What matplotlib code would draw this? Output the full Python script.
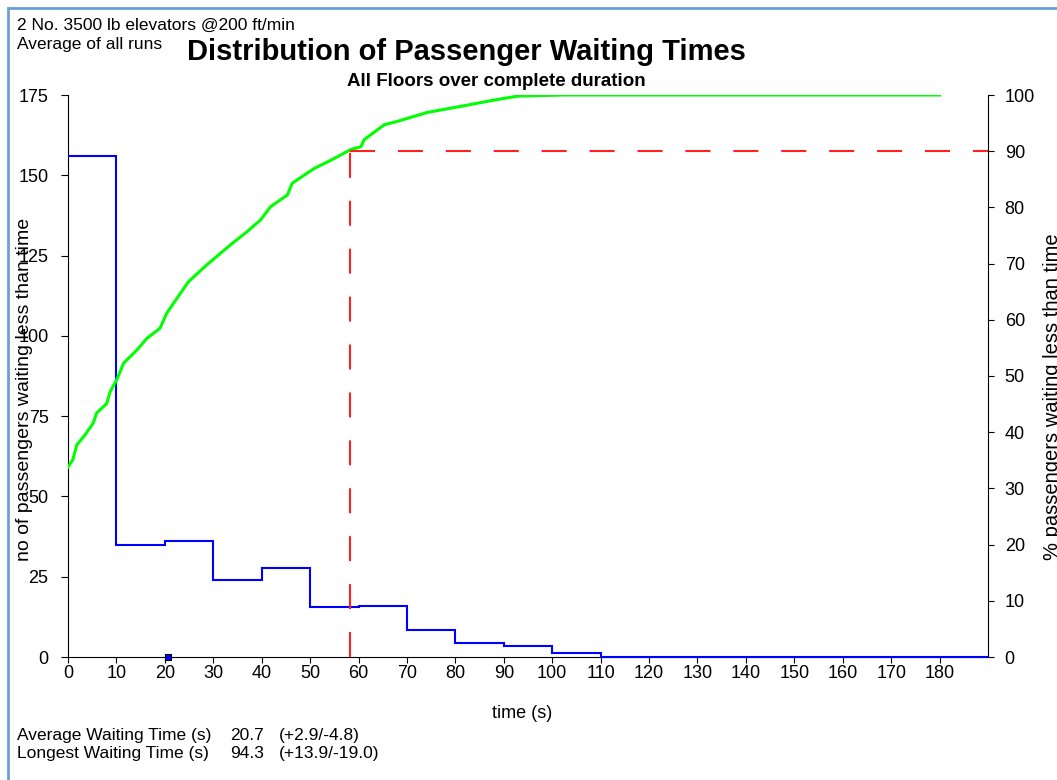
import matplotlib.pyplot as plt
from matplotlib.patches import Rectangle
import numpy as np

plt.rcParams['font.family'] = ['Liberation Sans', 'DejaVu Sans']

# histogram of waiting times: passengers per 10 s bin
bin_edges = [0, 10, 20, 30, 40, 50, 60, 70, 80, 90, 100, 110, 120, 130, 140,
             150, 160, 170, 180, 190]
bin_counts = [156, 35, 36, 24, 27.7, 15.5, 15.9, 8.4, 4.5, 3.5, 1.3,
              0, 0, 0, 0, 0, 0, 0, 0]

# cumulative percentage of passengers waiting less than time
cum_time = [0, 1.0, 1.8, 3.5, 5.2, 5.9, 8.0, 8.7, 10.1, 11.5, 14.2, 16.3, 19.0,
            20.4, 23.2, 24.9, 28.7, 33.5, 37.0, 39.8, 41.8, 45.3, 46.3, 50.8,
            54.3, 58.4, 60.5, 61.1, 65.3, 68.0, 74.2, 82.5, 88.0, 92.9, 102.5, 180]
cum_pct = [33.8, 35.1, 37.7, 39.5, 41.6, 43.4, 45.1, 47.2, 49.4, 52.3, 54.6,
           56.7, 58.5, 61.2, 64.7, 66.8, 69.8, 73.3, 75.7, 77.8, 80.1, 82.2,
           84.3, 86.9, 88.4, 90.3, 90.8, 92.0, 94.7, 95.3, 96.9, 98.2, 99.1,
           99.8, 100, 100]

t90 = 58.2       # time by which 90% have been served
avg_wait = 20.7

fig = plt.figure(figsize=(10.57, 7.8), dpi=100)
ax = fig.add_axes([68 / 1057, 1 - 657 / 780, 920 / 1057, 562 / 780])
ax2 = ax.twinx()

ax.set_xlim(0, 190)
ax.set_ylim(0, 175)
ax2.set_ylim(0, 100)

ax.stairs(bin_counts, bin_edges, baseline=None, color='#0000ff', lw=1.5,
          zorder=3, clip_on=False)
ax.plot([avg_wait], [0], 's', ms=4.5, mfc='#0000ff', mec='black', mew=0.8,
        clip_on=False, zorder=4)

ax2.plot(cum_time, cum_pct, color='#00ff00', lw=2.2)
ax2.plot([t90, t90], [0, 90], color='#ff2020', lw=1.5, dashes=(12, 11))
ax2.plot([t90, 190], [90, 90], color='#ff2020', lw=1.5, dashes=(12, 11),
         clip_on=False)

ax.set_xticks(np.arange(0, 181, 10))
ax.set_yticks(np.arange(0, 176, 25))
ax2.set_yticks(np.arange(0, 101, 10))

for s in ['top', 'right']:
    ax.spines[s].set_visible(False)
for s in ['top', 'left', 'bottom']:
    ax2.spines[s].set_visible(False)

ax.tick_params(axis='x', direction='out', length=4, pad=2, labelsize=13)
ax.tick_params(axis='y', direction='out', length=5, pad=9, labelsize=13)
ax2.tick_params(axis='y', direction='out', length=4, pad=8, labelsize=13)

fig.text(25 / 1057, 1 - 389 / 780, 'no of passengers waiting less than time',
         rotation=90, ha='center', va='center', fontsize=14)
fig.text(1053 / 1057, 1 - 397 / 780, '% passengers waiting less than time',
         rotation=90, ha='center', va='center', fontsize=14.5)
fig.text(522 / 1057, 1 - 718 / 780, 'time (s)', ha='center', va='baseline',
         fontsize=13)

fig.text(466 / 1057, 1 - 60 / 780, 'Distribution of Passenger Waiting Times',
         ha='center', va='baseline', fontsize=21, fontweight='bold')
fig.text(496 / 1057, 1 - 86 / 780, 'All Floors over complete duration',
         ha='center', va='baseline', fontsize=13.5, fontweight='bold')
fig.text(17 / 1057, 1 - 30 / 780, '2 No. 3500 lb elevators @200 ft/min',
         ha='left', va='baseline', fontsize=12.5)
fig.text(17 / 1057, 1 - 49 / 780, 'Average of all runs',
         ha='left', va='baseline', fontsize=12.5)

fig.text(17 / 1057, 1 - 740 / 780, 'Average Waiting Time (s)', ha='left',
         va='baseline', fontsize=12.5)
fig.text(230 / 1057, 1 - 740 / 780, '20.7', ha='left', va='baseline', fontsize=12.5)
fig.text(279 / 1057, 1 - 740 / 780, '(+2.9/-4.8)', ha='left', va='baseline',
         fontsize=12.5)
fig.text(17 / 1057, 1 - 758 / 780, 'Longest Waiting Time (s)', ha='left',
         va='baseline', fontsize=12.5)
fig.text(230 / 1057, 1 - 758 / 780, '94.3', ha='left', va='baseline', fontsize=12.5)
fig.text(279 / 1057, 1 - 758 / 780, '(+13.9/-19.0)', ha='left', va='baseline',
         fontsize=12.5)

# light blue frame around the chart (right/bottom edges fall off the image)
fig.patches.append(Rectangle((8 / 1057, -0.05), 1.05, 1 - 8 / 780 + 0.05,
                             transform=fig.transFigure, fill=False,
                             edgecolor='#6a9fd8', lw=2))

fig.savefig('out.png', dpi=100)
